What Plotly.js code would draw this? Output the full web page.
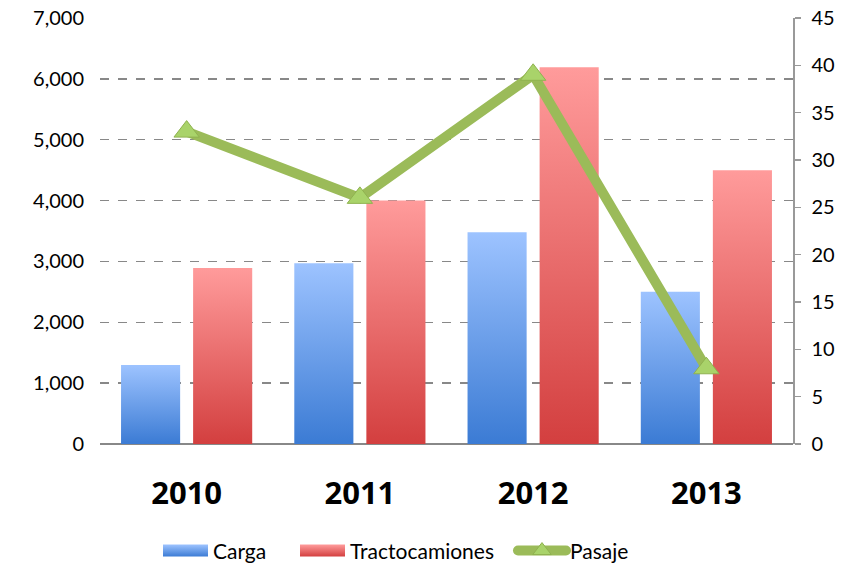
<!DOCTYPE html>
<html><head><meta charset="utf-8">
<script src="https://cdn.plot.ly/plotly-3.0.1.min.js"></script>
<style>html,body{margin:0;padding:0;background:#fff}#chart{width:847px;height:567px}</style>
</head><body><div id="chart"></div>
<script>
const years = ['2010','2011','2012','2013'];
const carga = [1300, 2970, 3480, 2500];
const tracto = [2890, 4000, 6190, 4500];
const pasaje = [33, 26, 39, 8];

const fontFam = 'Lato, "Open Sans", sans-serif';
const traces = [
  {type:'bar', name:'Carga', x:years, y:carga, marker:{color:'#6fa0ea'}, yaxis:'y'},
  {type:'bar', name:'Tractocamiones', x:years, y:tracto, marker:{color:'#ec6d6d'}, yaxis:'y'},
  {type:'scatter', mode:'lines+markers', name:'Pasaje', x:years, y:pasaje, yaxis:'y2',
   line:{color:'#9bbb59', width:10},
   marker:{symbol:'triangle-up', size:22, color:'#a9d36a', line:{color:'#8fb24f', width:1}}}
];
const layout = {
  width:847, height:567,
  margin:{l:100, r:54, t:18, b:123, autoexpand:false},
  paper_bgcolor:'#fff', plot_bgcolor:'#fff',
  font:{family:fontFam, color:'#000', size:20},
  barmode:'group', bargap:0.168, bargroupgap:0.18,
  showlegend:true,
  legend:{orientation:'h', x:0.5, xanchor:'center', y:-0.251, yanchor:'middle', font:{size:21}, traceorder:'normal', bgcolor:'rgba(0,0,0,0)'},
  xaxis:{type:'category', showgrid:false, ticks:'', showline:false, zeroline:false, automargin:false,
    tickfont:{size:31, family:'"Open Sans", sans-serif', weight:'bold'}, ticklabelstandoff:28},
  yaxis:{range:[0,7000], dtick:1000, tickformat:',', showgrid:true, gridcolor:'#888', griddash:'dash', gridwidth:1.5,
    zeroline:true, zerolinecolor:'#888', zerolinewidth:1.5, showline:false, ticks:'', ticklabelstandoff:15,
    automargin:false, tickfont:{size:20}},
  yaxis2:{range:[0,45], dtick:5, overlaying:'y', side:'right', showgrid:false, zeroline:false, automargin:false,
    showline:true, linecolor:'#999', linewidth:1.5, ticks:'outside', ticklen:6, tickcolor:'#999', tickwidth:1.5,
    ticklabelstandoff:7, tickfont:{size:20}}
};
Plotly.newPlot('chart', traces, layout, {displayModeBar:false, staticPlot:true}).then(gd => {
  const svg = gd.querySelector('svg.main-svg');
  const ns = 'http://www.w3.org/2000/svg';
  let defs = svg.querySelector('defs');
  if (!defs) { defs = document.createElementNS(ns,'defs'); svg.insertBefore(defs, svg.firstChild); }
  function grad(id, top, bot) {
    const g = document.createElementNS(ns,'linearGradient');
    g.setAttribute('id', id); g.setAttribute('x1','0'); g.setAttribute('y1','0'); g.setAttribute('x2','0'); g.setAttribute('y2','1');
    [[0,top],[1,bot]].forEach(([o,c]) => { const s=document.createElementNS(ns,'stop'); s.setAttribute('offset',o); s.setAttribute('stop-color',c); g.appendChild(s); });
    defs.appendChild(g);
  }
  grad('gCarga', '#9dc3ff', '#3b7bd4');
  grad('gTracto', '#ff9b9b', '#d33f3f');
  const ids = ['gCarga','gTracto'];
  gd.querySelectorAll('.barlayer .trace').forEach((t,i) => t.querySelectorAll('path').forEach(p => p.style.fill = 'url(#'+ids[i]+')'));
  // legend layout
  gd.querySelectorAll('.legend, .legend *').forEach(el => el.removeAttribute('clip-path'));
  const desiredText = [213, 350, 570];
  const svgLeft = svg.getBoundingClientRect().left;
  gd.querySelectorAll('.legend .traces').forEach((t,i) => {
    const txt = t.querySelector('text.legendtext');
    const left = txt.getBoundingClientRect().left - svgLeft;
    const delta = desiredText[i] - left;
    const m = /translate\(([-\d.]+)[ ,]+([-\d.]+)\)/.exec(t.getAttribute('transform') || 'translate(0,0)');
    t.setAttribute('transform', 'translate(' + (parseFloat(m[1]) + delta) + ',' + m[2] + ')');
    const T = desiredText[i];
    if (i < 2) {
      t.querySelectorAll('.legendpoints path').forEach(p => {
        const ox = p.parentNode.getScreenCTM().e - svgLeft;
        const x0 = T - 50 - ox;
        p.setAttribute('d', 'M' + x0 + ',-6h45v12h-45Z');
        p.removeAttribute('transform');
        p.style.fill = 'url(#'+ids[i]+')';
      });
    } else {
      t.querySelectorAll('.legendlines path').forEach(p => {
        const ox = p.parentNode.getScreenCTM().e - svgLeft;
        p.setAttribute('d', 'M' + (T - 52 - ox) + ',0h48');
        p.style.strokeLinecap = 'round';
      });
      t.querySelectorAll('.legendpoints path').forEach(p => {
        const ox = p.parentNode.getScreenCTM().e - svgLeft;
        p.setAttribute('transform', 'translate(' + (T - 28 - ox) + ',0)');
      });
    }
  });
});
</script></body></html>
